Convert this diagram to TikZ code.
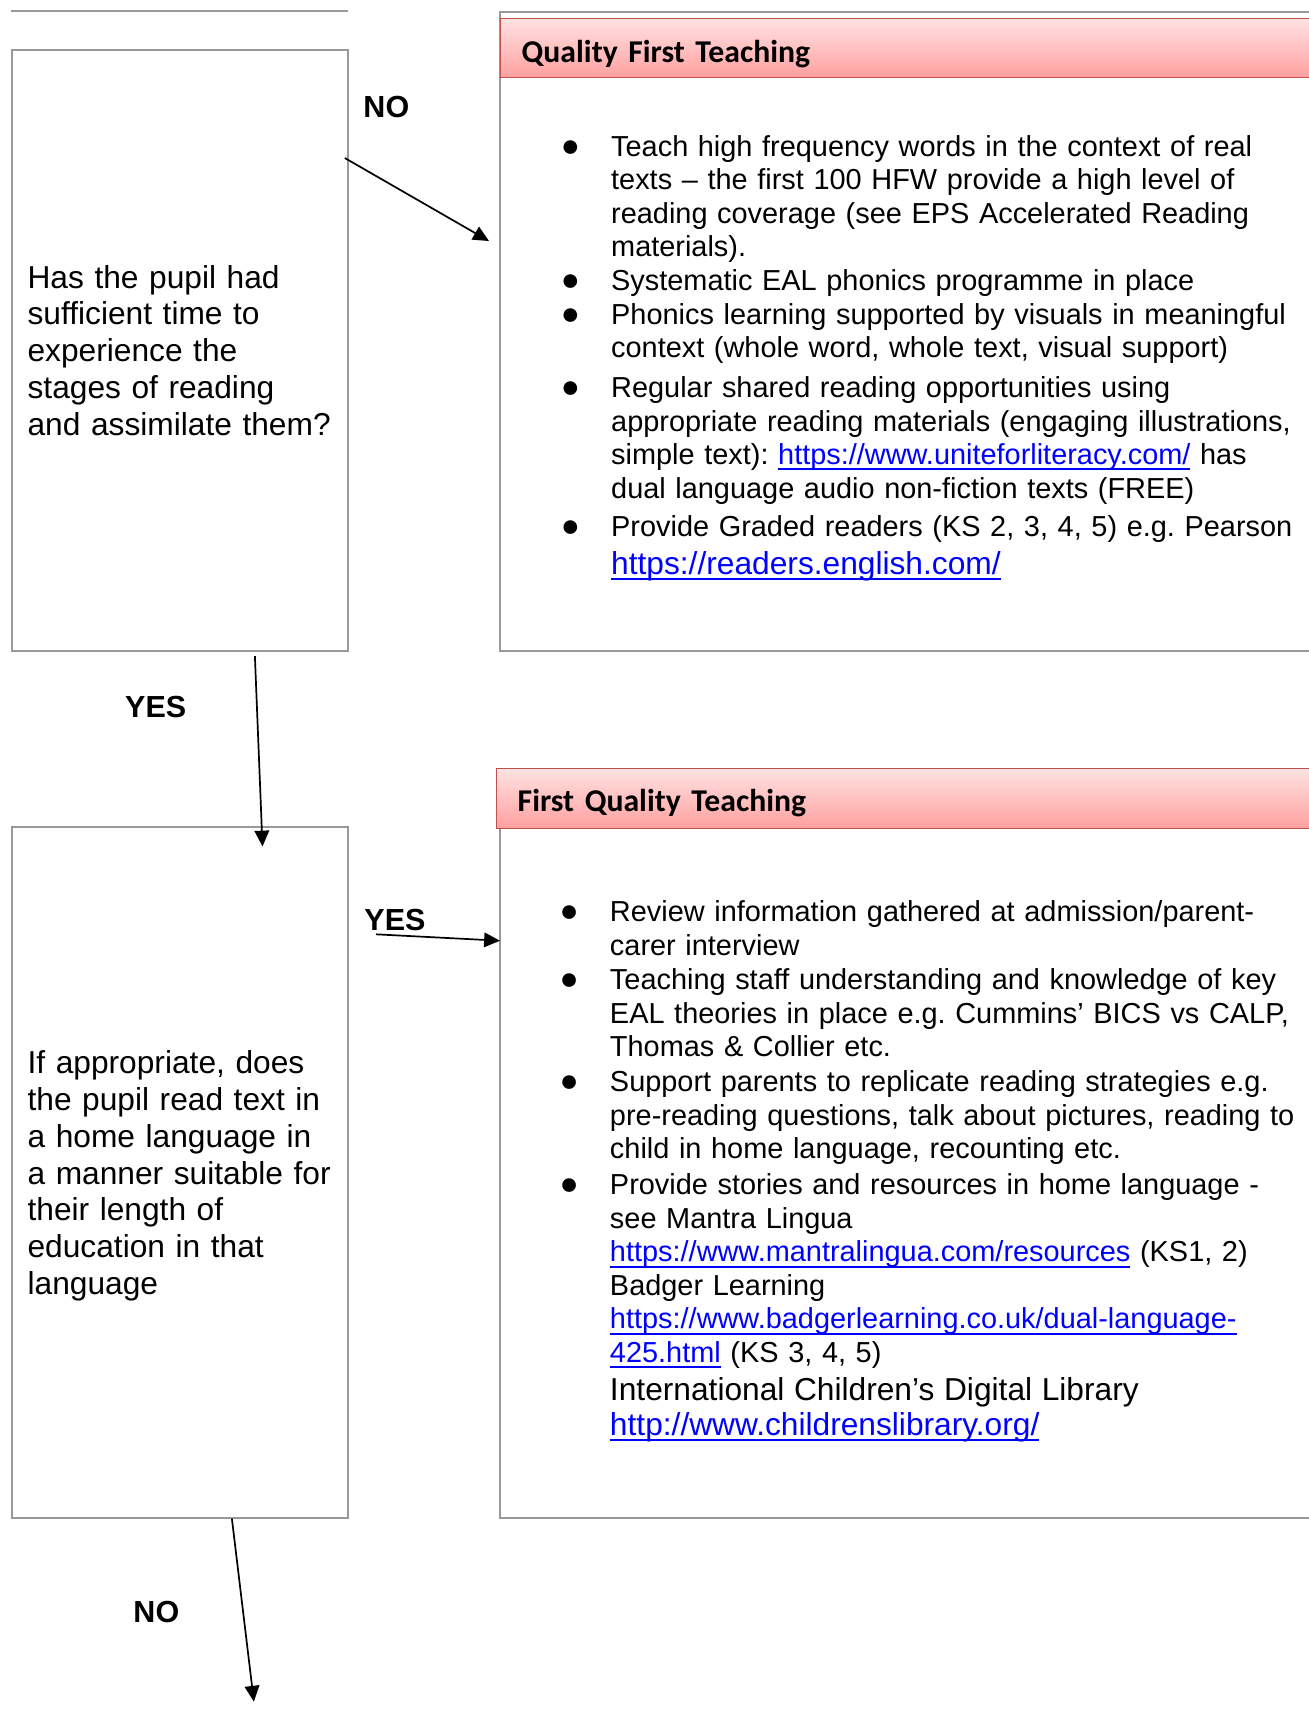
\documentclass[tikz,border=0pt]{standalone}
\usepackage{fontspec}
\setmainfont{Liberation Sans}
\newfontfamily\headfont{Carlito}
\usepackage{xcolor}
\usepackage{tikz}
\usetikzlibrary{positioning,arrows.meta,calc}

\definecolor{boxgray}{HTML}{999999}
\definecolor{headred}{HTML}{C0504D}
\definecolor{headtop}{HTML}{FFE2E2}
\definecolor{headbot}{HTML}{FF9F9F}
\definecolor{linkblue}{HTML}{0000FF}

\frenchspacing
\newcommand{\bodyfont}{\fontsize{11.85pt}{13.78pt}\selectfont}
\newcommand{\bigfont}{\fontsize{13pt}{15.1pt}\selectfont}
\newcommand{\bul}{\leavevmode\llap{\makebox[33.4pt][c]{\fontsize{13pt}{13pt}\selectfont ●}}}
\newcommand{\weblink}[1]{\leavevmode{\color{linkblue}\setbox0\hbox{#1}\rlap{\rule[-2.4pt]{\wd0}{0.85pt}}\box0}}

\begin{document}
\begin{tikzpicture}[x=0.41pt, y=-0.41pt,
    qbox/.style={rectangle, draw=boxgray, line width=0.7pt, anchor=north west, align=left,
      inner xsep=6.44pt, inner ysep=0pt, text width=124.9pt, minimum width=137.8pt, font=\bigfont},
    panel/.style={rectangle, draw=boxgray, line width=0.7pt, anchor=north west, inner sep=0pt},
    headbar/.style={rectangle, draw=headred, line width=0.6pt, top color=headtop, bottom color=headbot,
      anchor=north west, inner xsep=8.6pt, inner ysep=0pt, align=left,
      font=\headfont\bfseries\fontsize{13pt}{15pt}\selectfont},
    item/.style={anchor=base west, inner sep=0pt, text width=300pt, align=left, font=\bodyfont},
    answer/.style={anchor=base west, inner sep=0pt, font=\bfseries\fontsize{12.5pt}{15pt}\selectfont},
    arr/.style={-{Triangle[length=6.5pt,width=6pt]}, line width=0.7pt}
  ]
    \useasboundingbox (0,0) rectangle (1309,1730);

    % question boxes
    \draw[boxgray, line width=0.7pt] (11,11) -- (348,11);
    \node[qbox, minimum height=246.4pt] (q1) at (11,49)
      {Has the pupil had\\ sufficient time to\\ experience the\\ stages of reading\\ and assimilate them?};
    \node[qbox, minimum height=283.3pt] (q2) at (11,826)
      {\rule{0pt}{12.3pt}If appropriate, does\\ the pupil read text in\\ a home language in\\ a manner suitable for\\ their length of\\ education in that\\ language};

    % advice panels
    \node[panel, minimum width=340.7pt, minimum height=262pt] (p1) at (499,11) {};
    \node[headbar, text width=323pt, minimum height=24.2pt] (h1) at (500,18)
      {\rule{0pt}{13.5pt}Quality First Teaching};
    \node[panel, minimum width=340.7pt, minimum height=307.1pt] (p2) at (499,768) {};
    \node[headbar, text width=325pt, minimum height=24.6pt] (h2) at (496,768)
      {\rule{0pt}{12.5pt}First Quality Teaching};

    \node[item] (i11) at (610.7,156) {\bul Teach high frequency words in the context of real\\
      texts – the first 100 HFW provide a high level of\\
      reading coverage (see EPS Accelerated Reading\\
      materials).};
    \node[item] (i12) at (610.7,290.6) {\bul Systematic EAL phonics programme in place};
    \node[item] (i13) at (610.7,324.2) {\bul Phonics learning supported by visuals in meaningful\\
      context (whole word, whole text, visual support)};
    \node[item] (i14) at (610.7,397.4) {\bul Regular shared reading opportunities using\\
      appropriate reading materials (engaging illustrations,\\
      simple text): \weblink{https://www.uniteforliteracy.com/} has\\
      dual language audio non-fiction texts (FREE)};
    \node[item] (i15) at (610.7,536.5) {\bul Provide Graded readers (KS 2, 3, 4, 5) e.g. Pearson\\[1.6pt]
      {\bigfont\weblink{https://readers.english.com/}}};

    \node[item] (i21) at (609.5,921.7) {\bul Review information gathered at admission/parent-\\
      carer interview};
    \node[item] (i22) at (609.5,989.5) {\bul Teaching staff understanding and knowledge of key\\
      EAL theories in place e.g. Cummins’ BICS vs CALP,\\
      Thomas \& Collier etc.};
    \node[item] (i23) at (609.5,1091.6) {\bul Support parents to replicate reading strategies e.g.\\
      pre-reading questions, talk about pictures, reading to\\
      child in home language, recounting etc.};
    \node[item] (i24) at (609.5,1194.5) {\bul Provide stories and resources in home language -\\
      see Mantra Lingua\\
      \weblink{https://www.mantralingua.com/resources} (KS1, 2)\\
      Badger Learning\\
      \weblink{https://www.badgerlearning.co.uk/dual-language-}\\
      \weblink{425.html} (KS 3, 4, 5)\\[1.8pt]
      {\bigfont International Children’s Digital Library}\\[0.6pt]
      {\bigfont\weblink{http://www.childrenslibrary.org/}}};

    % answers
    \node[answer] (n1) at (363,117) {NO};
    \node[answer] (y1) at (124.7,717) {YES};
    \node[answer] (y2) at (364,930) {YES};
    \node[answer] (n2) at (133,1622) {NO};

    \draw[arr] ($(q1.north east)+(-4,109)$) -- ($(p1.north west)+(-10,230)$);
    \draw[arr] ($(q1.south)+(75,4.5)$) -- ($(q2.north)+(82.6,20.5)$);
    \draw[arr] ($(y2.base west)+(12,4.3)$) -- ($(p2.north west)+(1,172.7)$);
    \draw[arr] ($(q2.south)+(52,0)$) -- ($(q2.south)+(74,183)$);
  \end{tikzpicture}
\end{document}
